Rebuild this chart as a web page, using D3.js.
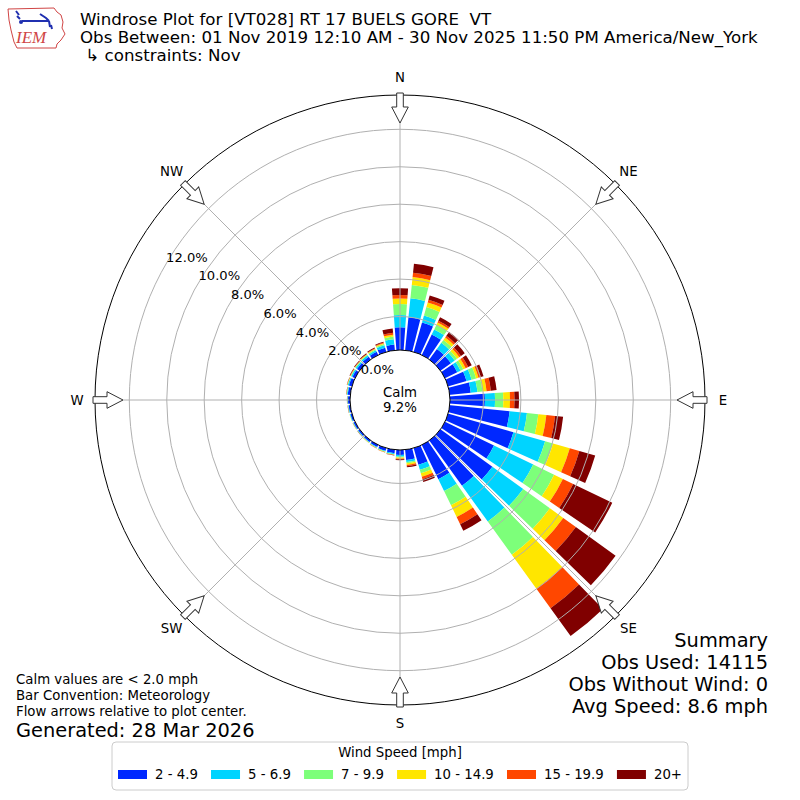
<!DOCTYPE html>
<html>
<head>
<meta charset="utf-8">
<script src="https://cdn.jsdelivr.net/npm/d3@7"></script>
<style>
  body { margin: 0; background: #fff; }
  svg { font-family: "DejaVu Sans", sans-serif; }
  text { white-space: pre; }
</style>
</head>
<body>
<div id="chart"></div>
<script>
// Directions (degrees, meteorological convention)
const directions = [0, 10, 20, 30, 40, 50, 60, 70, 80, 90, 100, 110, 120, 130, 140, 150, 160, 170,
                    180, 190, 200, 210, 220, 230, 240, 250, 260, 270, 280, 290, 300, 310, 320, 330, 340, 350];

// Percent of observations per direction, one array per speed bin
const speed2to5   = [1.43, 1.98, 1.85, 1.43, 0.91, 0.90, 0.94, 1.24, 1.34, 2.08, 3.43, 3.84, 3.12, 3.63, 3.20, 2.24, 1.14, 0.76,
                     0.48, 0.40, 0.36, 0.33, 0.31, 0.30, 0.30, 0.30, 0.30, 0.32, 0.35, 0.38, 0.37, 0.38, 0.40, 0.40, 0.45, 0.52];
const speed5to7   = [0.65, 1.02, 0.38, 0.30, 0.40, 0.25, 0.20, 0.28, 0.36, 0.54, 0.93, 1.76, 2.33, 2.03, 2.35, 0.70, 0.28, 0.11,
                     0.09, 0.05, 0.04, 0.04, 0.03, 0.03, 0.03, 0.03, 0.03, 0.03, 0.04, 0.06, 0.07, 0.08, 0.09, 0.10, 0.13, 0.28];
const speed7to10  = [0.59, 0.72, 0.47, 0.27, 0.19, 0.15, 0.16, 0.25, 0.27, 0.44, 0.61, 0.44, 1.24, 1.76, 2.19, 0.85, 0.19, 0.07,
                     0.05, 0.02, 0.02, 0.02, 0.02, 0.01, 0.01, 0.01, 0.01, 0.01, 0.02, 0.02, 0.03, 0.04, 0.04, 0.05, 0.07, 0.15];
const speed10to15 = [0.30, 0.42, 0.26, 0.14, 0.16, 0.15, 0.14, 0.13, 0.22, 0.36, 0.43, 0.93, 0.52, 0.88, 2.24, 0.69, 0.19, 0.09,
                     0.06, 0.02, 0.02, 0.01, 0.01, 0.01, 0.01, 0.01, 0.01, 0.01, 0.01, 0.02, 0.02, 0.02, 0.03, 0.04, 0.05, 0.10];
const speed15to20 = [0.18, 0.23, 0.15, 0.10, 0.11, 0.11, 0.15, 0.13, 0.23, 0.24, 0.47, 0.53, 0.61, 0.83, 1.29, 0.43, 0.14, 0.07,
                     0.03, 0.01, 0.01, 0.01, 0.00, 0.00, 0.00, 0.00, 0.00, 0.00, 0.01, 0.01, 0.02, 0.02, 0.02, 0.02, 0.03, 0.10];
const speed20up   = [0.36, 0.49, 0.24, 0.21, 0.26, 0.25, 0.21, 0.15, 0.31, 0.24, 0.43, 0.88, 2.32, 2.62, 1.83, 0.39, 0.15, 0.06,
                     0.05, 0.02, 0.01, 0.01, 0.01, 0.01, 0.01, 0.00, 0.01, 0.01, 0.01, 0.01, 0.03, 0.03, 0.04, 0.05, 0.05, 0.23];

const speedLabels = ["2 - 4.9", "5 - 6.9", "7 - 9.9", "10 - 14.9", "15 - 19.9", "20+"];
const speedColors = ["#0028ff", "#00d4ff", "#7dff7a", "#ffe600", "#ff4700", "#800000"];

const ringTicks = [0, 2, 4, 6, 8, 10, 12];
const compassLabels = ["N", "NE", "E", "SE", "S", "SW", "W", "NW"];
const compassAngles = [0, 45, 90, 135, 180, 225, 270, 315];

const titleLines = [
  "Windrose Plot for [VT028] RT 17 BUELS GORE  VT",
  "Obs Between: 01 Nov 2019 12:10 AM - 30 Nov 2025 11:50 PM America/New_York",
  " \u21b3 constraints: Nov"
];
const summaryLines = ["Summary", "Obs Used: 14115", "Obs Without Wind: 0", "Avg Speed: 8.6 mph"];
const noteLines = ["Calm values are < 2.0 mph", "Bar Convention: Meteorology", "Flow arrows relative to plot center."];
const calmPercent = "9.2%";

// ---- setup
const width = 800, height = 800;
const cx = 400, cy = 400;
const rOuter = 305, rCalm = 50;
const rad = Math.PI / 180;

const svg = d3.select("#chart").append("svg")
  .attr("width", width).attr("height", height);

const r = d3.scaleLinear().domain([0, 12]).range([46, 270.7]);

const g = svg.append("g").attr("transform", `translate(${cx},${cy})`);

// ---- bars
const keys = ["s0", "s1", "s2", "s3", "s4", "s5"];
const rows = directions.map((d, i) => ({
  dir: d,
  s0: speed2to5[i], s1: speed5to7[i], s2: speed7to10[i],
  s3: speed10to15[i], s4: speed15to20[i], s5: speed20up[i]
}));
const stacked = d3.stack().keys(keys)(rows);

const opening = 10 * 0.83 * rad;
const arc = d3.arc()
  .innerRadius(d => r(d[0]))
  .outerRadius(d => r(d[1]))
  .startAngle(d => d.data.dir * rad - opening / 2)
  .endAngle(d => d.data.dir * rad + opening / 2);

g.append("g").selectAll("g")
  .data(stacked)
  .join("g")
    .attr("fill", (d, i) => speedColors[i])
  .selectAll("path")
  .data(d => d)
  .join("path")
    .attr("d", arc);

// ---- grid
const grid = g.append("g").attr("fill", "none").attr("stroke", "#b0b0b0").attr("stroke-width", 1);
grid.selectAll("circle")
  .data(ringTicks.filter(t => t > 0))
  .join("circle")
    .attr("r", d => r(d));
grid.selectAll("line")
  .data(compassAngles)
  .join("line")
    .attr("x1", 0).attr("y1", 0)
    .attr("x2", d => rOuter * Math.sin(d * rad))
    .attr("y2", d => -rOuter * Math.cos(d * rad));

g.append("circle").attr("r", rOuter)
  .attr("fill", "none").attr("stroke", "#000").attr("stroke-width", 1);

// ---- flow arrows on the rim
const arrowPts = [[-3.3, -307], [3.3, -307], [3.3, -293], [8.3, -293], [0, -277], [-8.3, -293], [-3.3, -293]];
g.append("g").selectAll("polygon")
  .data(compassAngles)
  .join("polygon")
    .attr("points", arrowPts.map(p => p.join(",")).join(" "))
    .attr("transform", d => `rotate(${d})`)
    .attr("fill", "#fff").attr("stroke", "#333").attr("stroke-width", 1);

// ---- calm circle
g.append("circle").attr("r", rCalm)
  .attr("fill", "#fff").attr("stroke", "#000").attr("stroke-width", 1);
g.append("text").attr("x", 0).attr("y", -3).attr("text-anchor", "middle")
  .attr("font-size", 13.3).text("Calm");
g.append("text").attr("x", 0).attr("y", 12).attr("text-anchor", "middle")
  .attr("font-size", 13.3).text(calmPercent);

// ---- radial tick labels (along the 300 degree ray)
const labelAngle = 300 * rad;
g.append("g").selectAll("text")
  .data(ringTicks)
  .join("text")
    .attr("x", d => r(d) * Math.sin(labelAngle) + 0.5)
    .attr("y", d => -r(d) * Math.cos(labelAngle) - 3)
    .attr("font-size", 13.1)
    .text(d => d.toFixed(1) + "%");

// ---- compass labels
g.append("g").selectAll("text")
  .data(compassLabels)
  .join("text")
    .attr("x", (d, i) => 323 * Math.sin(compassAngles[i] * rad))
    .attr("y", (d, i) => -323 * Math.cos(compassAngles[i] * rad))
    .attr("text-anchor", "middle")
    .attr("dominant-baseline", "central")
    .attr("font-size", 13.3)
    .text(d => d);

// ---- title
svg.append("g").selectAll("text")
  .data(titleLines)
  .join("text")
    .attr("x", 80)
    .attr("y", (d, i) => 25 + i * 18)
    .attr("font-size", 16.67)
    .text(d => d);

// ---- logo (simplified IEM mark)
const logo = svg.append("g");
logo.append("path")
  .attr("d", "M8,9 L54,8 L57,12 L61,15 L63,22 L62,28 L65,34 L61,40 L57,44 L56,48 L17,48 L14,42 L11,30 L9,20 Z")
  .attr("fill", "none").attr("stroke", "#d04545").attr("stroke-width", 1);
logo.append("path")
  .attr("d", "M16,11 L19,15 M17,16 L20,19 M22,21 L49,21 M40,14 L46,18 L49,21 M49,21 L50,27 M51,25 L52,29")
  .attr("fill", "none").attr("stroke", "#2030b0").attr("stroke-width", 2);
logo.append("circle").attr("cx", 21).attr("cy", 22).attr("r", 2).attr("fill", "#2030b0");
logo.append("text").attr("x", 16).attr("y", 43)
  .attr("font-family", "'Liberation Serif', 'DejaVu Serif', serif")
  .attr("font-style", "italic").attr("font-size", 17).attr("fill", "#d04545")
  .text("IEM");

// ---- summary (bottom right)
svg.append("g").selectAll("text")
  .data(summaryLines)
  .join("text")
    .attr("x", 768)
    .attr("y", (d, i) => 647 + i * 22)
    .attr("text-anchor", "end")
    .attr("font-size", 19.4)
    .text(d => d);

// ---- notes (bottom left)
svg.append("g").selectAll("text")
  .data(noteLines)
  .join("text")
    .attr("x", 16)
    .attr("y", (d, i) => 684 + i * 16)
    .attr("font-size", 13.3)
    .text(d => d);
svg.append("text").attr("x", 16).attr("y", 737)
  .attr("font-size", 19.4).text("Generated: 28 Mar 2026");

// ---- legend
const legend = svg.append("g");
legend.append("rect")
  .attr("x", 112).attr("y", 742).attr("width", 576).attr("height", 48).attr("rx", 4)
  .attr("fill", "#fff").attr("stroke", "#cccccc");
legend.append("text").attr("x", 400).attr("y", 757).attr("text-anchor", "middle")
  .attr("font-size", 13.3).text("Wind Speed [mph]");

const patchW = 29, patchH = 9, pad = 8;
const items = legend.selectAll("g.item")
  .data(speedLabels)
  .join("g").attr("class", "item");
items.append("text")
  .attr("y", 779).attr("font-size", 13.3)
  .text(d => d);
const textW = [];
items.select("text").each(function() { textW.push(this.getComputedTextLength()); });
const inner = 576 - 12;
const gap = (inner - speedLabels.length * (patchW + pad) - d3.sum(textW)) / (speedLabels.length - 1);
let xPos = 118;
items.each(function(d, i) {
  const it = d3.select(this);
  it.insert("rect", "text")
    .attr("x", xPos).attr("y", 770).attr("width", patchW).attr("height", patchH)
    .attr("fill", speedColors[i]);
  it.select("text").attr("x", xPos + patchW + pad);
  xPos += patchW + pad + textW[i] + gap;
});
</script>
</body>
</html>
